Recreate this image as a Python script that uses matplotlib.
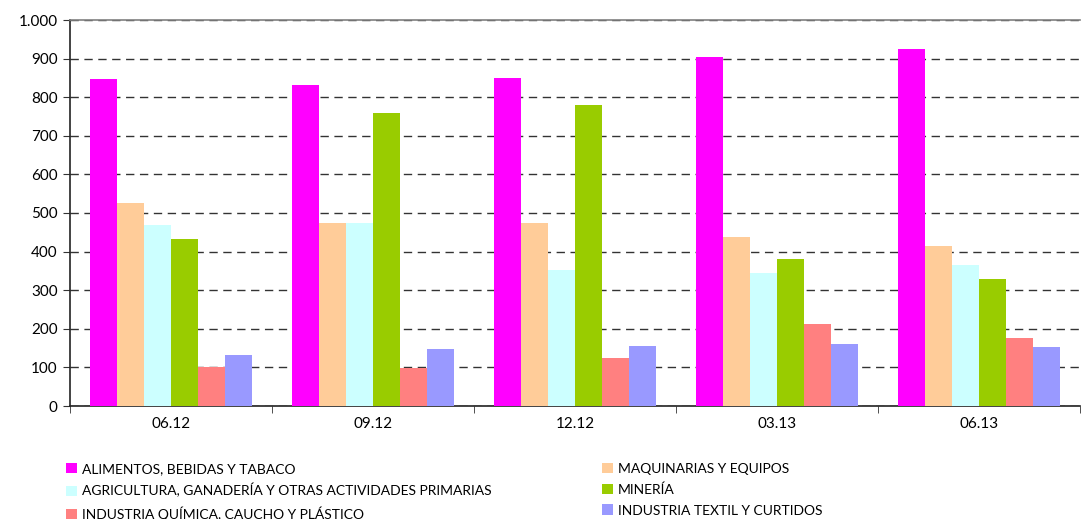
import numpy as np
import matplotlib.pyplot as plt
from matplotlib.patches import Patch

periods = ["06.12", "09.12", "12.12", "03.13", "06.13"]

series_names = [
    "ALIMENTOS, BEBIDAS Y TABACO",
    "MAQUINARIAS Y EQUIPOS",
    "AGRICULTURA, GANADERÍA Y OTRAS ACTIVIDADES PRIMARIAS",
    "MINERÍA",
    "INDUSTRIA QUÍMICA, CAUCHO Y PLÁSTICO",
    "INDUSTRIA TEXTIL Y CURTIDOS",
]

alimentos = [847, 832, 850, 904, 925]
maquinarias = [526, 474, 474, 438, 414]
agricultura = [469, 474, 352, 345, 365]
mineria = [433, 759, 780, 381, 329]
quimica = [101, 98, 124, 212, 176]
textil = [132, 148, 155, 161, 153]

colors = ["#ff00ff", "#ffcc99", "#ccffff", "#99cc00", "#ff8080", "#9999ff"]

plt.rcParams["font.family"] = ["Lato", "DejaVu Sans"]

fig = plt.figure(figsize=(10.83, 5.19), dpi=100)
ax = fig.add_axes([70 / 1083, 1 - 406 / 519, 1010 / 1083, 386 / 519])

data = [alimentos, maquinarias, agricultura, mineria, quimica, textil]
x = np.arange(len(periods))
n = len(data)
width = 0.8 / n

for i, (vals, name, col) in enumerate(zip(data, series_names, colors)):
    ax.bar(x + (i - (n - 1) / 2) * width, vals, width, color=col, label=name, zorder=3)

ax.set_xlim(-0.5, len(periods) - 0.5)
ax.set_ylim(0, 1000)
ax.set_yticks(range(0, 1001, 100))
ax.set_yticklabels([f"{v:,}".replace(",", ".") for v in range(0, 1001, 100)], fontsize=11)

ax.set_xticks(x)
ax.set_xticklabels(periods, fontsize=11)
ax.set_xticks(np.arange(-0.5, len(periods), 1), minor=True)
ax.tick_params(axis="x", which="major", length=0, pad=8)
ax.tick_params(axis="x", which="minor", length=5, direction="out", color="#333333")
ax.tick_params(axis="y", length=5, direction="out", color="#333333", pad=4)

ax.yaxis.grid(True, linestyle=(0, (6, 4)), color="#333333", linewidth=1.0, zorder=0)
ax.spines["right"].set_visible(False)
ax.spines["top"].set_color("#808080")
ax.spines["left"].set_color("#222222")
ax.spines["bottom"].set_color("#222222")
for s in ["top", "left", "bottom"]:
    ax.spines[s].set_linewidth(1.2)

handles = [Patch(facecolor=c, edgecolor="none") for c in colors]
order = [0, 2, 4, 1, 3, 5]
fig.legend(
    [handles[i] for i in order],
    [series_names[i] for i in order],
    ncol=2,
    loc="upper left",
    bbox_to_anchor=(60 / 1083, 1 - 457 / 519),
    frameon=False,
    fontsize=10,
    handlelength=0.8,
    handleheight=0.8,
    handletextpad=0.4,
    labelspacing=0.62,
    columnspacing=7.9,
    borderaxespad=0,
)

fig.savefig("out.png", dpi=100)
